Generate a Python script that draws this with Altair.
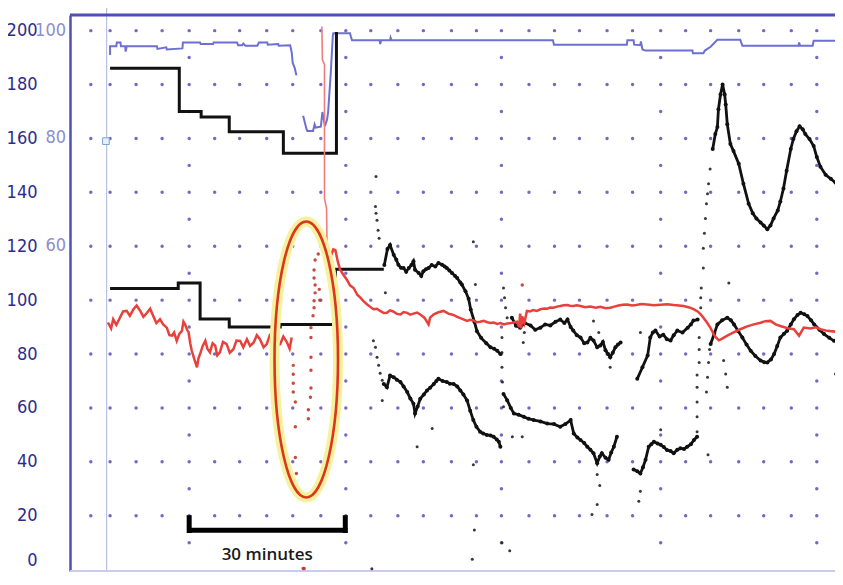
import altair as alt
import pandas as pd

# ---------------- axis / grid tick values ----------------
y_ticks = [0, 20, 40, 60, 80, 100, 120, 140, 160, 180, 200]
spo2_label_pos = [200, 160, 120]
spo2_labels = ["100", "80", "60"]
grid_cols = [4.0, 7.7, 12.7, 17.7, 22.9, 27.8, 32.6, 37.8, 42.8, 48.2,
             53.0, 57.8, 63.0, 67.9, 73.3, 78.1, 82.9, 88.2, 93.1, 97.9,
             103.2, 108.1, 113.5, 118.3, 123.1, 128.5, 133.3, 138.6, 143.5]
grid_major = [22.9, 53.0, 82.9, 113.5, 143.5]
grid_rows = [20, 40, 60, 80, 100, 120, 140, 160, 180, 200]
grid_half_rows = [10, 30, 50, 70, 90, 110, 130, 150, 170, 190]

# ---------------- SpO2 (right scale, %) ----------------
spo2_a_t = [7.7, 7.7, 8.9, 9.0, 9.7, 9.8, 10.6, 10.7, 10.9, 16.7,
            16.8, 18.5, 18.6, 21.6, 21.7, 25.0, 25.1, 27.5, 27.6, 32.1,
            32.3, 33.1, 33.3, 33.7, 36.0, 36.3, 37.9, 38.0, 40.0, 40.1,
            42.3, 42.6, 42.8, 43.2, 43.5]
spo2_a_v = [95.5, 97.1, 97.1, 97.8, 97.8, 97.1, 97.1, 96.1, 97.1, 97.1,
            96.6, 96.9, 96.5, 96.7, 97.8, 97.8, 97.5, 97.5, 97.8, 97.8,
            97.3, 97.3, 97.6, 97.2, 97.2, 97.8, 97.8, 97.4, 97.5, 97.2,
            97.3, 96.0, 94.0, 93.0, 91.7]
spo2_b_t = [44.8, 45.4, 45.6, 46.7, 47.0, 47.2, 48.2, 48.5, 49.0, 49.4,
            49.6, 50.1, 50.5, 50.6, 53.8, 54.0, 54.2, 59.5, 59.6, 59.8,
            61.5, 61.6, 61.8, 92.8, 93.0, 107.0, 107.1, 108.3, 108.4, 109.6,
            109.7, 110.0, 110.6, 119.6, 119.7, 121.7, 122.0, 123.1, 124.4, 128.8,
            129.2, 140.0, 140.1, 140.3, 142.7, 142.9, 148.5]
spo2_b_v = [84.2, 81.9, 81.4, 81.4, 82.6, 82.0, 82.2, 84.9, 82.3, 83.5,
            84.9, 92.0, 99.0, 99.5, 99.5, 98.8, 98.2, 98.2, 97.5, 98.2,
            98.2, 98.7, 98.2, 98.2, 97.4, 97.4, 98.2, 98.2, 97.4, 97.3,
            98.0, 96.5, 96.3, 96.3, 95.8, 95.8, 96.3, 97.0, 98.3, 98.3,
            97.2, 97.2, 97.8, 97.2, 97.2, 98.1, 98.1]

# ---------------- cuff blood pressure (step) ----------------
nibp_sys_t = [7.7, 21.0, 25.2, 30.6, 41.0, 51.2]
nibp_sys_v = [186, 170, 168, 162.5, 154.5, 199.5]
nibp_dia_t = [7.7, 20.8, 25.0, 30.6, 40.4, 51.0, 60.3]
nibp_dia_v = [104.3, 106.4, 93.0, 90.0, 91.0, 111.5, 111.5]

# ---------------- heart rate ----------------
hr_a_t = [7.3, 7.9, 8.3, 8.9, 9.6, 10.2, 10.9, 11.5, 12.2, 12.8,
          13.5, 14.1, 14.8, 15.4, 16.0, 16.6, 17.3, 17.9, 18.6, 19.1,
          19.6, 20.0, 20.5, 21.0, 21.5, 21.8, 22.1, 22.5, 22.8, 23.1,
          23.4, 23.9, 24.4, 24.7, 25.0, 25.5, 26.0, 26.4, 26.9, 27.4,
          27.9, 28.3, 28.8, 29.4, 30.1, 30.7, 31.4, 32.0, 32.7, 33.3,
          34.0, 34.6, 35.3, 35.9, 36.5, 37.2, 37.8, 38.4, 39.1, 39.7,
          40.4, 41.0, 41.7, 42.2, 42.6]
hr_a_v = [91.7, 89.5, 92.9, 90.8, 93.5, 95.8, 96.0, 94.2, 96.6, 98.0,
          96.0, 93.8, 95.3, 96.8, 94.1, 91.5, 92.9, 91.0, 89.8, 87.0,
          86.8, 88.0, 84.9, 87.5, 88.6, 92.0, 91.0, 89.0, 88.0, 84.0,
          81.2, 78.0, 75.1, 78.5, 80.0, 83.0, 84.9, 82.0, 80.6, 84.0,
          83.1, 79.5, 80.6, 84.5, 83.7, 80.5, 81.8, 85.0, 84.9, 82.5,
          85.5, 83.0, 84.3, 87.0, 85.5, 82.5, 83.7, 87.0, 86.1, 83.0,
          83.7, 86.5, 84.3, 82.0, 86.1]
hr_spike_t = [48.4, 48.5, 48.9, 48.9, 49.3, 49.4]
hr_spike_v = [201.5, 189.2, 187.4, 137.7, 134.0, 119.3]
hr_b_t = [49.4, 49.8, 50.2, 50.6, 51.0, 51.5, 51.9, 52.5, 53.2, 53.8,
          54.5, 55.2, 55.8, 56.3, 57.1, 57.7, 58.3, 59.0, 59.6, 60.3,
          60.9, 61.5, 62.1, 62.8, 63.5, 64.1, 64.8, 65.4, 66.0, 66.7,
          67.3, 68.1, 68.9, 69.2, 69.9, 70.8, 71.8, 72.7, 73.7, 74.4,
          75.0, 75.7, 76.3, 76.9, 77.5, 78.2, 78.8, 79.5, 80.2, 80.8,
          81.4, 82.1, 82.7, 83.4, 84.0, 85.0, 85.9, 86.3, 86.5, 86.7,
          86.9, 87.3, 87.8, 88.4, 89.0, 89.7, 90.4, 91.1, 91.7, 92.3,
          92.9, 93.6, 94.2, 94.9, 95.5, 96.1, 96.7, 97.4, 98.1, 99.0,
          100.0, 101.0, 101.9, 102.9, 103.8, 104.6, 105.4, 106.2, 107.1, 108.0,
          108.8, 109.8, 110.9, 112.2, 113.5, 114.8, 116.0, 117.0, 117.9, 119.0,
          119.9, 120.6, 121.2, 121.8, 122.4, 123.1, 123.7, 124.2, 124.7, 125.4,
          126.3, 127.5, 128.8, 130.0, 131.4, 132.7, 133.6, 134.6, 135.6, 136.5,
          137.9, 139.1, 140.1, 141.0, 142.3, 143.3, 144.2, 145.5, 147.1, 148.7]
hr_b_v = [119.3, 117.5, 116.8, 118.8, 118.5, 114.0, 111.3, 109.5, 107.6, 105.5,
          104.5, 102.0, 100.9, 99.8, 98.4, 97.5, 96.6, 96.8, 96.0, 95.2,
          95.3, 96.2, 95.8, 94.9, 94.7, 95.6, 95.3, 94.6, 95.0, 95.4,
          94.7, 93.5, 91.0, 93.5, 94.7, 95.5, 96.0, 95.0, 94.5, 93.8,
          93.3, 92.8, 92.3, 92.7, 92.5, 91.8, 92.0, 92.3, 91.8, 91.5,
          91.7, 91.2, 91.5, 91.0, 91.3, 91.6, 92.0, 90.0, 95.0, 89.5,
          94.0, 91.5, 96.0, 95.8, 96.3, 96.0, 96.6, 96.9, 96.8, 97.3,
          97.2, 97.6, 97.8, 98.1, 98.2, 97.9, 97.8, 98.1, 97.8, 97.4,
          97.6, 97.2, 97.5, 97.0, 97.2, 97.6, 98.0, 98.3, 98.4, 98.0,
          98.2, 98.6, 98.4, 98.1, 98.3, 98.5, 98.2, 98.0, 97.8, 97.3,
          96.6, 95.8, 94.7, 93.3, 91.7, 89.6, 87.4, 86.0, 85.1, 85.8,
          86.8, 88.0, 89.2, 90.2, 91.0, 91.6, 92.2, 92.3, 91.0, 90.4,
          89.6, 89.2, 86.8, 89.8, 89.5, 89.9, 89.2, 88.6, 88.3, 88.3]
hr_dot_t = [42.9, 42.9, 42.9, 42.9, 43.3, 43.3, 43.3, 43.5, 45.8, 45.8,
            46.2, 46.3, 46.3, 46.3, 46.3, 46.3, 46.7, 46.9, 46.9, 47.1,
            47.1, 46.9, 46.9, 47.1, 47.7, 47.9, 48.0, 44.8, 45.0, 86.9]
hr_dot_v = [75.8, 72.5, 69.2, 65.9, 62.2, 53.0, 41.6, 35.7, 59.3, 56.0,
            64.0, 67.4, 74.0, 78.8, 86.1, 89.8, 94.2, 97.2, 99.8, 102.7,
            105.6, 108.2, 111.2, 114.9, 117.1, 104.0, 100.0, 0.4, 0.4, 105.6]

# ---------------- arterial pressure (systolic / diastolic traces) ----------------
art_u1_t = [60.4, 61.0, 61.5, 62.2, 62.7, 63.1, 63.6, 64.1, 64.6, 65.1,
            65.6, 66.0, 66.3, 67.0, 67.5, 67.9, 68.4, 68.9, 69.5, 70.2,
            70.8, 71.5, 72.0, 72.4, 72.9, 73.4, 74.0, 74.4, 75.0, 75.3,
            76.0, 76.6, 77.0, 77.7, 78.2, 79.0, 80.0, 80.8, 81.5, 82.1, 82.7]
art_u1_v = [113.0, 119.0, 120.5, 116.8, 115.0, 113.1, 112.0, 111.9, 110.5, 111.9,
            113.0, 114.4, 111.3, 110.1, 109.0, 110.7, 111.5, 111.9, 113.0, 112.5,
            113.8, 113.1, 112.5, 111.9, 111.0, 110.1, 109.0, 108.2, 106.5, 105.8,
            103.3, 100.5, 96.5, 92.0, 88.5, 86.0, 84.0, 82.5, 82.0, 81.2, 80.0]
art_u2_t = [84.9, 85.7, 86.5, 87.4, 88.5, 89.4, 90.4, 91.3, 92.3, 93.3,
            94.2, 95.0, 95.6, 96.2, 96.7, 97.4, 98.1, 98.8, 99.4, 100.0,
            100.6, 101.3, 101.9, 102.4, 102.9, 103.4, 103.8, 104.3, 104.8, 105.3, 105.8]
art_u2_v = [93.5, 90.5, 89.8, 91.5, 90.6, 89.0, 89.8, 91.0, 90.6, 92.0,
            92.8, 91.5, 92.8, 90.0, 88.7, 87.0, 86.1, 84.0, 84.3, 86.0,
            85.0, 82.5, 83.2, 84.5, 81.4, 80.0, 78.8, 80.5, 82.5, 83.5, 84.3]
art_u3_t = [109.0, 110.0, 111.0, 111.5, 112.0, 112.5, 113.3, 114.0, 114.7, 115.4,
            116.0, 116.7, 117.7, 118.7, 119.3, 119.8, 120.6]
art_u3_v = [70.8, 75.1, 79.5, 86.1, 88.0, 88.7, 86.5, 87.2, 85.5, 85.0,
            87.0, 88.7, 88.0, 89.8, 91.0, 92.4, 92.8]
art_u4_t = [123.5, 124.0, 124.4, 124.6, 125.0, 125.4, 125.8, 126.0, 126.3, 126.9,
            127.5, 128.5, 129.4, 130.4, 131.2, 131.9, 132.7, 133.3, 134.0, 134.6,
            135.2, 136.0, 136.5, 137.1, 137.7, 138.5, 139.0, 139.6, 140.2, 140.8,
            141.3, 142.1, 142.9, 143.5, 144.2, 145.2, 146.2, 147.1, 148.5]
art_u4_v = [156.1, 161.6, 164.2, 170.8, 176.3, 180.0, 176.3, 172.6, 165.3, 157.9,
            155.3, 150.6, 143.2, 135.8, 132.2, 130.3, 128.8, 127.7, 126.3, 127.7,
            130.3, 133.3, 136.6, 141.4, 148.0, 156.1, 159.8, 162.7, 164.5, 163.4,
            161.6, 159.8, 157.2, 153.1, 149.5, 146.5, 145.0, 143.6, 140.0]
art_l1_t = [60.3, 60.9, 61.5, 62.2, 62.8, 63.5, 64.1, 64.8, 65.4, 66.0,
            66.3, 66.8, 67.3, 68.0, 68.6, 69.2, 69.9, 70.4, 70.8, 71.6,
            72.4, 73.0, 73.7, 74.4, 75.0, 75.6, 76.3, 76.9, 77.5, 78.1,
            78.8, 79.4, 80.1, 80.8, 81.4, 82.0, 82.4, 82.7]
art_l1_v = [68.9, 67.7, 72.0, 71.4, 70.5, 69.6, 68.0, 65.9, 63.5, 61.6,
            57.9, 60.5, 63.4, 65.0, 66.5, 67.5, 68.9, 70.0, 70.8, 70.0,
            69.6, 69.0, 68.9, 68.0, 66.5, 65.0, 62.8, 59.0, 55.5, 53.0,
            51.2, 50.5, 50.0, 49.8, 49.3, 48.3, 47.5, 45.6]
art_l2_t = [83.3, 84.0, 84.7, 85.3, 86.2, 87.2, 88.1, 89.1, 90.4, 91.7,
            93.0, 94.2, 95.2, 96.2, 96.8, 97.5, 98.1, 98.8, 99.4, 100.0,
            100.6, 101.3, 101.8, 102.2, 102.9, 103.5, 104.0, 104.5, 105.1]
art_l2_v = [65.2, 62.9, 60.0, 57.9, 57.5, 56.7, 56.0, 55.5, 55.0, 54.2,
            54.0, 53.0, 54.0, 55.5, 50.5, 49.0, 48.1, 47.0, 45.6, 44.5,
            43.2, 39.5, 42.0, 43.2, 41.5, 40.8, 43.5, 45.6, 49.3]
art_l3_t = [108.3, 109.0, 109.6, 110.1, 110.6, 111.2, 111.7, 112.2, 112.9, 113.5,
            114.1, 114.7, 115.4, 116.0, 116.7, 117.3, 118.0, 118.6, 119.3, 119.9, 120.5]
art_l3_v = [37.2, 36.5, 35.7, 38.0, 40.8, 45.6, 46.5, 47.5, 46.8, 46.3,
            45.5, 44.4, 44.0, 43.2, 44.5, 45.0, 44.8, 45.6, 46.5, 48.1, 49.3]
art_l4_t = [123.1, 123.8, 124.4, 125.3, 126.3, 127.0, 127.6, 128.4, 129.2, 130.0,
            130.8, 131.7, 132.7, 133.4, 134.0, 134.7, 135.3, 135.9, 136.5, 137.2,
            137.8, 138.5, 139.1, 139.8, 140.4, 141.1, 141.7, 142.4, 143.0, 144.0,
            144.9, 145.9, 146.8, 148.7]
art_l4_v = [83.7, 87.5, 91.0, 92.5, 93.5, 92.5, 91.0, 88.5, 86.1, 83.5,
            81.2, 79.3, 77.6, 77.0, 76.9, 78.0, 80.0, 83.0, 86.1, 87.5,
            88.6, 91.0, 92.9, 94.5, 95.3, 94.8, 94.1, 92.5, 91.0, 89.0,
            87.4, 86.0, 84.9, 86.1]
art_dot_t = [58.8, 58.7, 58.8, 59.0, 59.2, 59.4, 60.6, 60.0, 58.3, 58.7,
             59.0, 59.3, 59.6, 60.0, 77.5, 77.9, 69.6, 66.7, 77.5, 77.7,
             77.3, 58.0, 83.0, 84.5, 83.0, 83.0, 83.0, 83.1, 83.3, 83.5,
             83.7, 84.0, 83.3, 85.0, 86.9, 87.1, 87.3, 100.3, 101.3, 101.8,
             101.3, 109.6, 109.3, 100.6, 101.6, 109.6, 103.8, 126.6, 125.6, 126.0,
             126.3, 147.1, 122.6, 113.5, 120.5, 120.5, 120.5, 120.5, 120.5, 120.9,
             120.9, 120.9, 121.2, 121.2, 121.3, 121.7, 121.7, 121.9, 122.1, 122.3,
             122.5, 122.7, 123.0, 122.3, 122.5, 122.7, 122.9]
art_dot_v = [145.9, 134.7, 132.2, 129.6, 125.9, 123.0, 102.7, 62.8, 84.9, 82.5,
             78.8, 75.8, 72.9, 70.3, 121.7, 105.8, 52.4, 45.6, 38.9, 14.7,
             3.9, 0.3, 10.0, 7.0, 86.1, 80.6, 75.1, 69.6, 104.5, 100.9,
             97.2, 93.5, 60.4, 49.3, 49.3, 84.3, 88.0, 20.5, 24.2, 31.2,
             35.3, 29.1, 25.4, 92.3, 88.0, 88.0, 75.1, 106.4, 77.6, 72.6,
             67.7, 72.6, 42.6, 51.9, 51.2, 56.7, 62.2, 67.7, 72.2, 76.9,
             81.7, 86.1, 100.9, 97.2, 104.5, 111.9, 119.3, 124.8, 130.3, 135.8,
             139.5, 143.2, 148.7, 65.9, 71.4, 76.9, 81.7]

# ---------------- annotations ----------------
ellipse_center_t = [45.4]
ellipse_center_v = [78.0]
bar_start, bar_end, bar_level = [22.5], [53.3], [14.6]
bar_ticks_t = [22.9, 52.9]
bar_tick_lo, bar_tick_hi = [13.6, 13.6], [20.2, 20.2]
bar_label = ["30 minutes"]
bar_label_t, bar_label_v = [37.9], [5.5]
marker_line_t = [7.05]
marker_box_t, marker_box_v = [6.9], [159.0]

# ---------------- build tables ----------------
def seg(name, ts, vs):
    return pd.DataFrame({"t": ts, "v": vs, "seg": name, "i": range(len(ts))})

spo2_df = pd.concat([seg("a", spo2_a_t, spo2_a_v), seg("b", spo2_b_t, spo2_b_v)])
spo2_df["v"] = spo2_df["v"] * 2
sys_df = seg("sys", nibp_sys_t, nibp_sys_v)
dia_df = seg("dia", nibp_dia_t, nibp_dia_v)
hr_df = pd.concat([seg("a", hr_a_t, hr_a_v), seg("b", hr_b_t, hr_b_v)])
spike_df = seg("s", hr_spike_t, hr_spike_v)
hr_dot_df = pd.DataFrame({"t": hr_dot_t, "v": hr_dot_v})
art_df = pd.concat([
    seg("u1", art_u1_t, art_u1_v), seg("u2", art_u2_t, art_u2_v),
    seg("u3", art_u3_t, art_u3_v), seg("u4", art_u4_t, art_u4_v),
    seg("l1", art_l1_t, art_l1_v), seg("l2", art_l2_t, art_l2_v),
    seg("l3", art_l3_t, art_l3_v), seg("l4", art_l4_t, art_l4_v)])
art_dot_df = pd.DataFrame({"t": art_dot_t, "v": art_dot_v})

grid_pts = [(c, r) for c in grid_cols for r in grid_rows]
grid_pts += [(c, r) for c in grid_major for r in grid_half_rows]
grid_df = pd.DataFrame(grid_pts, columns=["t", "v"])

lab_df = pd.DataFrame({"v": spo2_label_pos, "lab": spo2_labels})

W, H = 765, 556
xs = alt.Scale(domain=[0, 147], nice=False, zero=False)
ys = alt.Scale(domain=[-0.5, 205.8], nice=False, zero=False)
LABEL_FONT = "Liberation Sans Narrow, DejaVu Sans Condensed, Liberation Sans, sans-serif"
yaxis = alt.Axis(values=y_ticks, ticks=False, grid=False, title=None,
                 labelAlign="right",
                 labelBaseline={"condition": {"test": "datum.value === 0", "value": "bottom"},
                                "value": "middle"},
                 labelPadding=33,
                 labelFont=LABEL_FONT, labelFontSize=18, labelColor="#2c2c8c",
                 labelOverlap=False, labelFlush=False,
                 domainColor="#4f4fb4", domainWidth=2.5)

def X(f="t:Q"):
    return alt.X(f, scale=xs, axis=None)

def Y(f="v:Q"):
    return alt.Y(f, scale=ys, axis=yaxis)

grid = alt.Chart(grid_df).mark_circle(size=12, color="#5b50b5", opacity=0.85).encode(x=X(), y=Y())

vline = alt.Chart(pd.DataFrame({"t": marker_line_t})).mark_rule(
    color="#a9b5da", strokeWidth=1).encode(x=X(), y=alt.value(-8), y2=alt.value(H))
box = alt.Chart(pd.DataFrame({"t": marker_box_t, "v": marker_box_v})).mark_square(
    size=45, fill="#e8f0fb", stroke="#7fa3d0", strokeWidth=1, opacity=1).encode(x=X(), y=Y())

top_rule = alt.Chart(pd.DataFrame({"k": [0]})).mark_rule(color="#4f4fb4", strokeWidth=3).encode(
    x=alt.value(0), x2=alt.value(W), y=alt.value(0))
bottom_rule = alt.Chart(pd.DataFrame({"k": [0]})).mark_rule(color="#c9cbef", strokeWidth=2).encode(
    x=alt.value(0), x2=alt.value(W), y=alt.value(H))

spo2_labels_layer = alt.Chart(lab_df).mark_text(
    align="right", baseline="middle", font=LABEL_FONT, fontSize=18, color="#8c8ece").encode(
    x=alt.value(-4), y=Y(), text="lab:N")

spo2_line = alt.Chart(spo2_df).mark_line(color="#6d6fd2", strokeWidth=2, clip=True).encode(
    x=X(), y=Y(), detail="seg:N", order="i:Q")

sys_line = alt.Chart(sys_df).mark_line(color="#111111", strokeWidth=3, interpolate="step-after").encode(
    x=X(), y=Y(), order="i:Q")
dia_line = alt.Chart(dia_df).mark_line(color="#111111", strokeWidth=3, interpolate="step-after").encode(
    x=X(), y=Y(), order="i:Q")

art_line = alt.Chart(art_df).mark_line(color="#111111", strokeWidth=2.8, clip=True).encode(
    x=X(), y=Y(), detail="seg:N", order="i:Q")
art_pts = alt.Chart(art_df).mark_circle(color="#111111", size=16, opacity=1, clip=True).encode(x=X(), y=Y())
art_dots = alt.Chart(art_dot_df).mark_circle(color="#222222", size=9, opacity=0.9).encode(x=X(), y=Y())

hr_line = alt.Chart(hr_df).mark_line(color="#e8403a", strokeWidth=2.5, clip=True).encode(
    x=X(), y=Y(), detail="seg:N", order="i:Q")
spike_line = alt.Chart(spike_df).mark_line(color="#f27d7d", strokeWidth=1.6).encode(
    x=X(), y=Y(), order="i:Q")
hr_dots = alt.Chart(hr_dot_df).mark_circle(color="#c0392b", size=12, opacity=0.9).encode(x=X(), y=Y())

ellipse_path = "M -0.23,0 A 0.23,1 0 1,0 0.23,0 A 0.23,1 0 1,0 -0.23,0 Z"
ell_df = pd.DataFrame({"t": ellipse_center_t, "v": ellipse_center_v})
ell_glow = alt.Chart(ell_df).mark_point(shape=ellipse_path, size=76176, filled=False,
                                        stroke="#f5f19c", strokeWidth=10, opacity=1).encode(x=X(), y=Y())
ell_red = alt.Chart(ell_df).mark_point(shape=ellipse_path, size=76176, filled=False,
                                       stroke="#dc3520", strokeWidth=2.6, opacity=1).encode(x=X(), y=Y())

bar_h = alt.Chart(pd.DataFrame({"t": bar_start, "t2": bar_end, "v": bar_level})).mark_rule(
    color="#000000", strokeWidth=5).encode(x=X(), x2="t2:Q", y=Y())
bar_v = alt.Chart(pd.DataFrame({"t": bar_ticks_t, "v": bar_tick_lo, "v2": bar_tick_hi})).mark_rule(
    color="#000000", strokeWidth=5).encode(x=X(), y=Y(), y2="v2:Q")
bar_text = alt.Chart(pd.DataFrame({"t": bar_label_t, "v": bar_label_v, "lab": bar_label})).mark_text(
    font="Open Sans", fontSize=17, fontWeight=600, color="#1a1a1a", align="center", baseline="middle").encode(
    x=X(), y=Y(), text="lab:N")

chart = alt.layer(
    grid, vline, box, top_rule, bottom_rule, spo2_labels_layer,
    spo2_line, sys_line, dia_line, art_line, art_pts, art_dots,
    hr_line, spike_line, ell_glow, ell_red, hr_dots,
    bar_h, bar_v, bar_text,
).properties(
    width=W, height=H,
    padding={"left": 62, "top": 7, "right": 0, "bottom": 6},
    autosize=alt.AutoSizeParams(type="none"),
    background="white",
).configure_view(stroke=None)

chart.save("out.html", embed_options={"renderer": "svg", "actions": False})
